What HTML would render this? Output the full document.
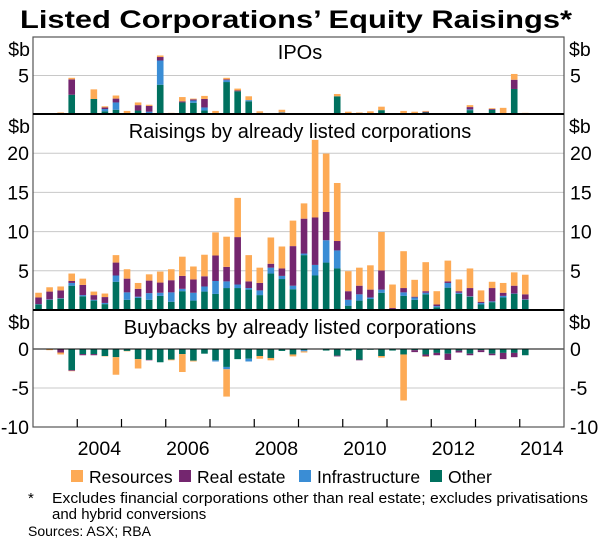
<!DOCTYPE html>
<html><head><meta charset="utf-8"><style>
body{margin:0;background:#fff;}
svg{display:block;font-family:"Liberation Sans",Arial,sans-serif;}
</style></head><body>
<svg id="chart" width="600" height="545" viewBox="0 0 600 545" xmlns="http://www.w3.org/2000/svg">
<text x="296" y="28" text-anchor="middle" font-size="25" font-weight="bold" textLength="552" lengthAdjust="spacingAndGlyphs">Listed Corporations’ Equity Raisings*</text>
<g id="grid"></g><g id="bars"></g><g id="axes"></g>
<g font-size="17.5">
<rect x="71" y="470" width="12" height="12" fill="#FDAA55"/>
<text x="89" y="483">Resources</text>
<rect x="179" y="470" width="12" height="12" fill="#74266F"/>
<text x="197" y="483">Real estate</text>
<rect x="299" y="470" width="12" height="12" fill="#3A8DD5"/>
<text x="317" y="483">Infrastructure</text>
<rect x="430" y="470" width="12" height="12" fill="#00715F"/>
<text x="448" y="483">Other</text>
</g>
<g font-size="15">
<text x="28" y="503">*</text>
<text x="52" y="503" textLength="536" lengthAdjust="spacingAndGlyphs">Excludes financial corporations other than real estate; excludes privatisations</text>
<text x="52" y="519">and hybrid conversions</text>
<text x="28" y="536" font-size="14">Sources: ASX; RBA</text>
</g>
</svg>
<script>
// series per panel: other, infrastructure, real estate, resources (quarterly from 2003 Q1)
const ipoOther=[0,0,0,2.5,0,1.95,.35,.55,.1,.45,.1,3.8,0,1.5,1.45,.45,.1,4.15,2.95,1.65,.15,0,0,0,0,0,0,2.3,0,0,0,.5,0,.1,.1,.2,0,0,0,.5,0,.55,0,3.25,0];
const ipoInfra=[0,0,0,0,0,0,.3,.95,0,0,.2,3.15,0,0,.3,.4,0,.25,0,.15,0,0,.2,0,0,0,0,0,0,0,0,0,0,0,0,0,0,0,0,.1,0,0,0,0,0];
const ipoRealEstate=[0,0,0,2.0,0,0,.2,.5,0,.7,.75,.45,0,.15,.15,1.1,0,.1,.1,0,0,0,0,0,0,0,0,0,0,0,0,0,0,0,0,.1,0,0,0,.3,0,.1,0,1.2,0];
const ipoResources=[0,.1,.2,.2,.1,1.25,.15,.4,.3,.35,.15,.2,.15,.55,.1,.4,.3,.2,.25,.5,.2,.1,.35,0,0,0,.1,.3,.3,.2,.35,.45,.1,.3,.2,.1,0,.1,.1,.25,.1,.1,.8,.75,.15];

const raiseOther=[.7,1.3,1.45,3.1,1.75,1.2,.75,3.6,1.3,1.55,1.3,1.8,1.05,2.4,1.2,2.35,2.05,2.8,2.8,2.6,1.9,4.65,3.95,2.65,7.0,4.4,6.05,5.3,.55,1.2,1.4,2.2,0,1.8,1.3,2.0,.35,2.85,2.05,1.7,.7,1.0,1.6,2.05,1.3];
const raiseInfra=[.05,.05,.05,.35,.15,.1,.15,.8,.95,.15,.85,.4,1.2,.3,1.0,.65,1.65,.85,.45,.2,.6,.75,.4,.45,.2,1.35,2.85,2.3,.75,.8,.2,.4,0,.45,.3,.2,.15,.6,.15,.05,.2,.1,.2,.05,.05];
const raiseRealEstate=[.85,1.0,1.0,.25,1.3,.6,.75,1.65,1.75,1.0,1.6,1.3,1.55,1.65,1.7,1.3,3.25,1.85,6.05,.85,.95,.5,.95,5.05,4.45,6.05,3.6,1.2,1.1,1.1,1.0,2.45,.25,.55,.1,.2,.2,.2,.2,1.05,.15,1.7,.4,1.0,.65];
const raiseResources=[.6,.55,.5,.95,.8,.45,.45,.95,1.2,.75,.8,1.4,1.4,2.45,1.65,2.75,2.95,3.85,5.0,3.35,1.95,3.35,2.8,3.25,1.95,9.9,7.45,7.4,2.55,2.3,3.1,4.9,3.0,4.7,2.15,3.7,1.7,2.65,1.5,2.5,1.45,.8,1.25,1.7,2.5];

const buyOther=[0,0,.05,2.7,.65,.65,.9,1.05,.25,1.3,1.4,1.7,1.35,.65,1.5,.6,1.45,2.3,1.3,1.25,.9,1.15,.25,.7,.15,.05,.2,.85,.2,1.35,.1,.9,.2,.7,.15,.7,.5,.6,.2,.6,.15,.6,.5,.5,.8];
const buyInfra=[0,0,0,0,0,0,0,0,0,0,0,0,0,0,0,0,.15,.3,0,.35,0,0,0,0,.15,0,0,0,0,0,0,0,0,0,0,0,0,0,0,0,0,0,0,0,0];
const buyRealEstate=[0,0,.4,.1,.15,.15,0,0,0,0,.05,0,0,0,0,0,0,0,0,0,0,0,0,0,0,0,0,.1,0,.1,0,0,0,0,.25,.25,.3,.8,.25,.2,.25,.2,.8,.55,0];
const buyResources=[0,.15,.25,.05,0,0,.05,2.25,.05,1.2,0,0,.1,2.3,.1,0,0,3.5,0,0,.35,.3,0,.25,.15,0,0,0,0,0,0,.2,0,5.9,0,.05,0,0,0,0,0,0,0,0,0];

const seriesNames=["other","infrastructure","real-estate","resources"];
const colors=["#00715F","#3A8DD5","#74266F","#FDAA55"];
const yearLabels=["2004","2006","2008","2010","2012","2014"];
const ipoTicks=[5];const raiseTicks=[5,10,15,20];const buyTicks=[0,-5,-10];

const NS="http://www.w3.org/2000/svg";
const L=33,R=564,startYear=2003,endYear=2015;
function xq(i){return L+(i+0.5)*(R-L)/((endYear-startYear)*4);}
function xy(y){return L+(y-startYear)*(R-L)/(endYear-startYear);}
const panels=[
 {name:"ipos",title:"IPOs",top:37,bot:114,min:0,max:10,ticks:ipoTicks,data:[ipoOther,ipoInfra,ipoRealEstate,ipoResources],sign:1,ty:59},
 {name:"raisings",title:"Raisings by already listed corporations",top:114,bot:310,min:0,max:25,ticks:raiseTicks,data:[raiseOther,raiseInfra,raiseRealEstate,raiseResources],sign:1,ty:138},
 {name:"buybacks",title:"Buybacks by already listed corporations",top:310,bot:427,min:-10,max:5,ticks:buyTicks,data:[buyOther,buyInfra,buyRealEstate,buyResources],sign:-1,ty:334}
];
function mk(tag,attrs,parent,txt){const e=document.createElementNS(NS,tag);for(const k in attrs)e.setAttribute(k,attrs[k]);if(txt!==undefined)e.textContent=txt;parent.appendChild(e);return e;}
const grid=document.getElementById('grid'),bars=document.getElementById('bars'),axes=document.getElementById('axes');
panels.forEach(p=>{
 const ys=v=>p.bot-(v-p.min)*(p.bot-p.top)/(p.max-p.min);
 p.ticks.forEach(t=>{
  if(t!==0&&t!==p.min){const g=mk('line',{x1:L,x2:R,y1:ys(t),y2:ys(t),stroke:'#c8c8c8','stroke-width':1},grid);
  
  }
  const a=mk('text',{x:29,y:ys(t)+7,'text-anchor':'end','font-size':19.5},axes,String(t));
  
  
  const b=mk('text',{x:570,y:ys(t)+7,'font-size':19.5},axes,String(t));
  
  
 });
 const u1=mk('text',{x:30,y:p.top+19,'text-anchor':'end','font-size':19.5},axes,'$b');
 
 
 const u2=mk('text',{x:569,y:p.top+19,'font-size':19.5},axes,'$b');
 
 
 const tt=mk('text',{x:300,y:p.ty,'text-anchor':'middle','font-size':20},axes,p.title);
 
 
 const n=p.data[0].length;
 for(let i=0;i<n;i++){
  let acc=0;
  for(let s=0;s<4;s++){
   const v=p.data[s][i];if(!v)continue;
   const y0=ys(p.sign*acc),y1=ys(p.sign*(acc+v));acc+=v;
   const r=mk('rect',{x:xq(i)-3.3,width:6.6,y:Math.min(y0,y1),height:Math.abs(y1-y0),fill:colors[s]},bars);
   
   
  }
 }
 if(p.min<0){const z=mk('line',{x1:L,x2:R,y1:ys(0),y2:ys(0),stroke:'#000','stroke-width':1},axes);
 
 }
});
const fr=mk('rect',{x:L,y:37,width:R-L,height:390,fill:'none',stroke:'#555','stroke-width':1.2},axes);


[114,310].forEach(y=>{const s=mk('line',{x1:L,x2:R,y1:y,y2:y,stroke:'#000','stroke-width':2},axes);

});
for(let y=startYear+1;y<endYear;y++){
 const t=mk('line',{x1:xy(y),x2:xy(y),y1:419,y2:427,stroke:'#000','stroke-width':1.2},axes);
 
 
}
yearLabels.forEach(l=>{
 const t=mk('text',{x:xy(+l+0.5),y:455,'text-anchor':'middle','font-size':19.5},axes,l);
 
 
});
</script>
</body></html>
